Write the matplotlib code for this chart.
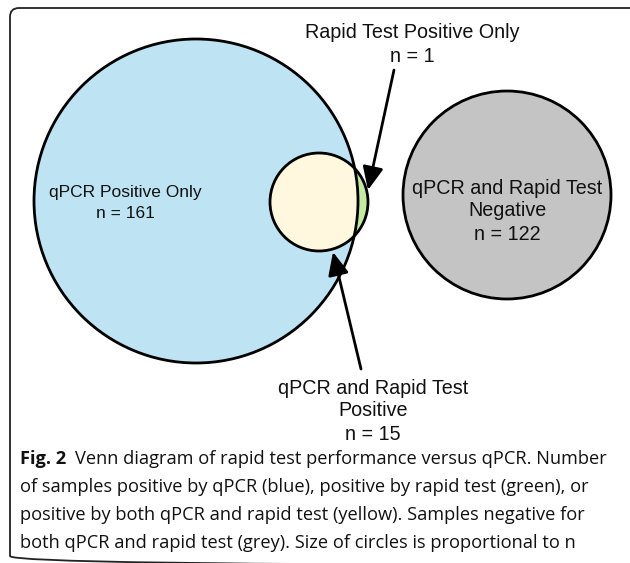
import matplotlib
matplotlib.use("Agg")
import matplotlib.pyplot as plt
from matplotlib.patches import Circle, FancyBboxPatch, FancyArrowPatch

# ---- data ----
region_labels = [["qPCR Positive Only"], ["qPCR and Rapid Test", "Positive"],
                 ["Rapid Test Positive Only"], ["qPCR and Rapid Test", "Negative"]]
region_counts = [161, 15, 1, 122]
caption_bold = "Fig. 2"
caption_lines = [
    "Venn diagram of rapid test performance versus qPCR. Number",
    "of samples positive by qPCR (blue), positive by rapid test (green), or",
    "positive by both qPCR and rapid test (yellow). Samples negative for",
    "both qPCR and rapid test (grey). Size of circles is proportional to n",
]

# ---- layout (pixel space, y downwards) ----
W, H = 630, 563
fig = plt.figure(figsize=(W / 100, H / 100), dpi=100)
ax = fig.add_axes([0, 0, 1, 1])
ax.set_xlim(0, W)
ax.set_ylim(H, 0)
ax.set_aspect("equal")
ax.axis("off")

BLUE, YELLOW, GREEN, GREY = "#BEE4F4", "#FFF8DF", "#C2EAA0", "#C4C4C4"
blue_c, blue_r = (196, 201), 162
yel_c, yel_r = (319, 202), 49
grey_c, grey_r = (507, 195), 104
LW = 2.0

# frame
frame = FancyBboxPatch((10, 8), 640, 557, boxstyle="round,pad=0,rounding_size=9",
                       fc="none", ec="#222222", lw=1.3)
ax.add_patch(frame)

# green: rapid positive disc
ax.add_patch(Circle(yel_c, yel_r, fc=GREEN, ec="none", zorder=1))
# blue disc
ax.add_patch(Circle(blue_c, blue_r, fc=BLUE, ec="none", zorder=2))
# yellow: part of rapid disc inside qPCR disc
clipc = Circle(blue_c, blue_r, transform=ax.transData)
y = Circle(yel_c, yel_r, fc=YELLOW, ec="none", zorder=3)
ax.add_patch(y)
y.set_clip_path(clipc)
# outlines
ax.add_patch(Circle(blue_c, blue_r, fc="none", ec="black", lw=LW, zorder=4))
ax.add_patch(Circle(yel_c, yel_r, fc="none", ec="black", lw=LW, zorder=4))
ax.add_patch(Circle(grey_c, grey_r, fc=GREY, ec="black", lw=LW, zorder=4))

# arrows
for (x0, y0), (x1, y1) in [((394, 70), (368, 190)), ((361, 369), (333, 252))]:
    ax.add_patch(FancyArrowPatch((x0, y0), (x1, y1),
                                 arrowstyle="-|>,head_length=1.0,head_width=0.45",
                                 mutation_scale=14, lw=LW, color="black",
                                 shrinkA=0, shrinkB=0, zorder=5))

# diagram labels, one text per line
label_pos = [(125, [192, 214], 12.5), (373, [389, 411, 434], 14.2),
             (412, [33, 56], 14.2), (507, [188, 211, 234], 14.2)]
for lines, n, (cx, ylist, fs) in zip(region_labels, region_counts, label_pos):
    for txt, yy in zip(lines + [f"n = {n}"], ylist):
        ax.text(cx, yy, txt, family="Liberation Sans", fontsize=fs,
                color="#111111", ha="center", va="center", zorder=6)

# caption
cap_font = "Open Sans"
x_start = 20
line1_end = 607
ys = [459, 487, 515, 543]
fig.canvas.draw()
r = fig.canvas.get_renderer()


def width(txt, size, weight="normal"):
    t = ax.text(0, 0, txt, family=cap_font, fontsize=size, fontweight=weight)
    w = t.get_window_extent(r).width
    t.remove()
    return w


def gap_px(size):
    return 0.5 * size * 100 / 72


s = 13.0
for _ in range(3):
    cur = width(caption_bold, s, "bold") + gap_px(s) + width(caption_lines[0], s)
    s *= (line1_end - x_start) / cur

wb = width(caption_bold, s, "bold")
ax.text(x_start, ys[0], caption_bold, family=cap_font, fontsize=s,
        fontweight="bold", color="#111111", va="center", ha="left")
ax.text(x_start + wb + gap_px(s), ys[0], caption_lines[0], family=cap_font,
        fontsize=s, color="#111111", va="center", ha="left")
for yy, line in zip(ys[1:], caption_lines[1:]):
    ax.text(x_start, yy, line, family=cap_font, fontsize=s,
            color="#111111", va="center", ha="left")

fig.savefig("out.png", dpi=100)
